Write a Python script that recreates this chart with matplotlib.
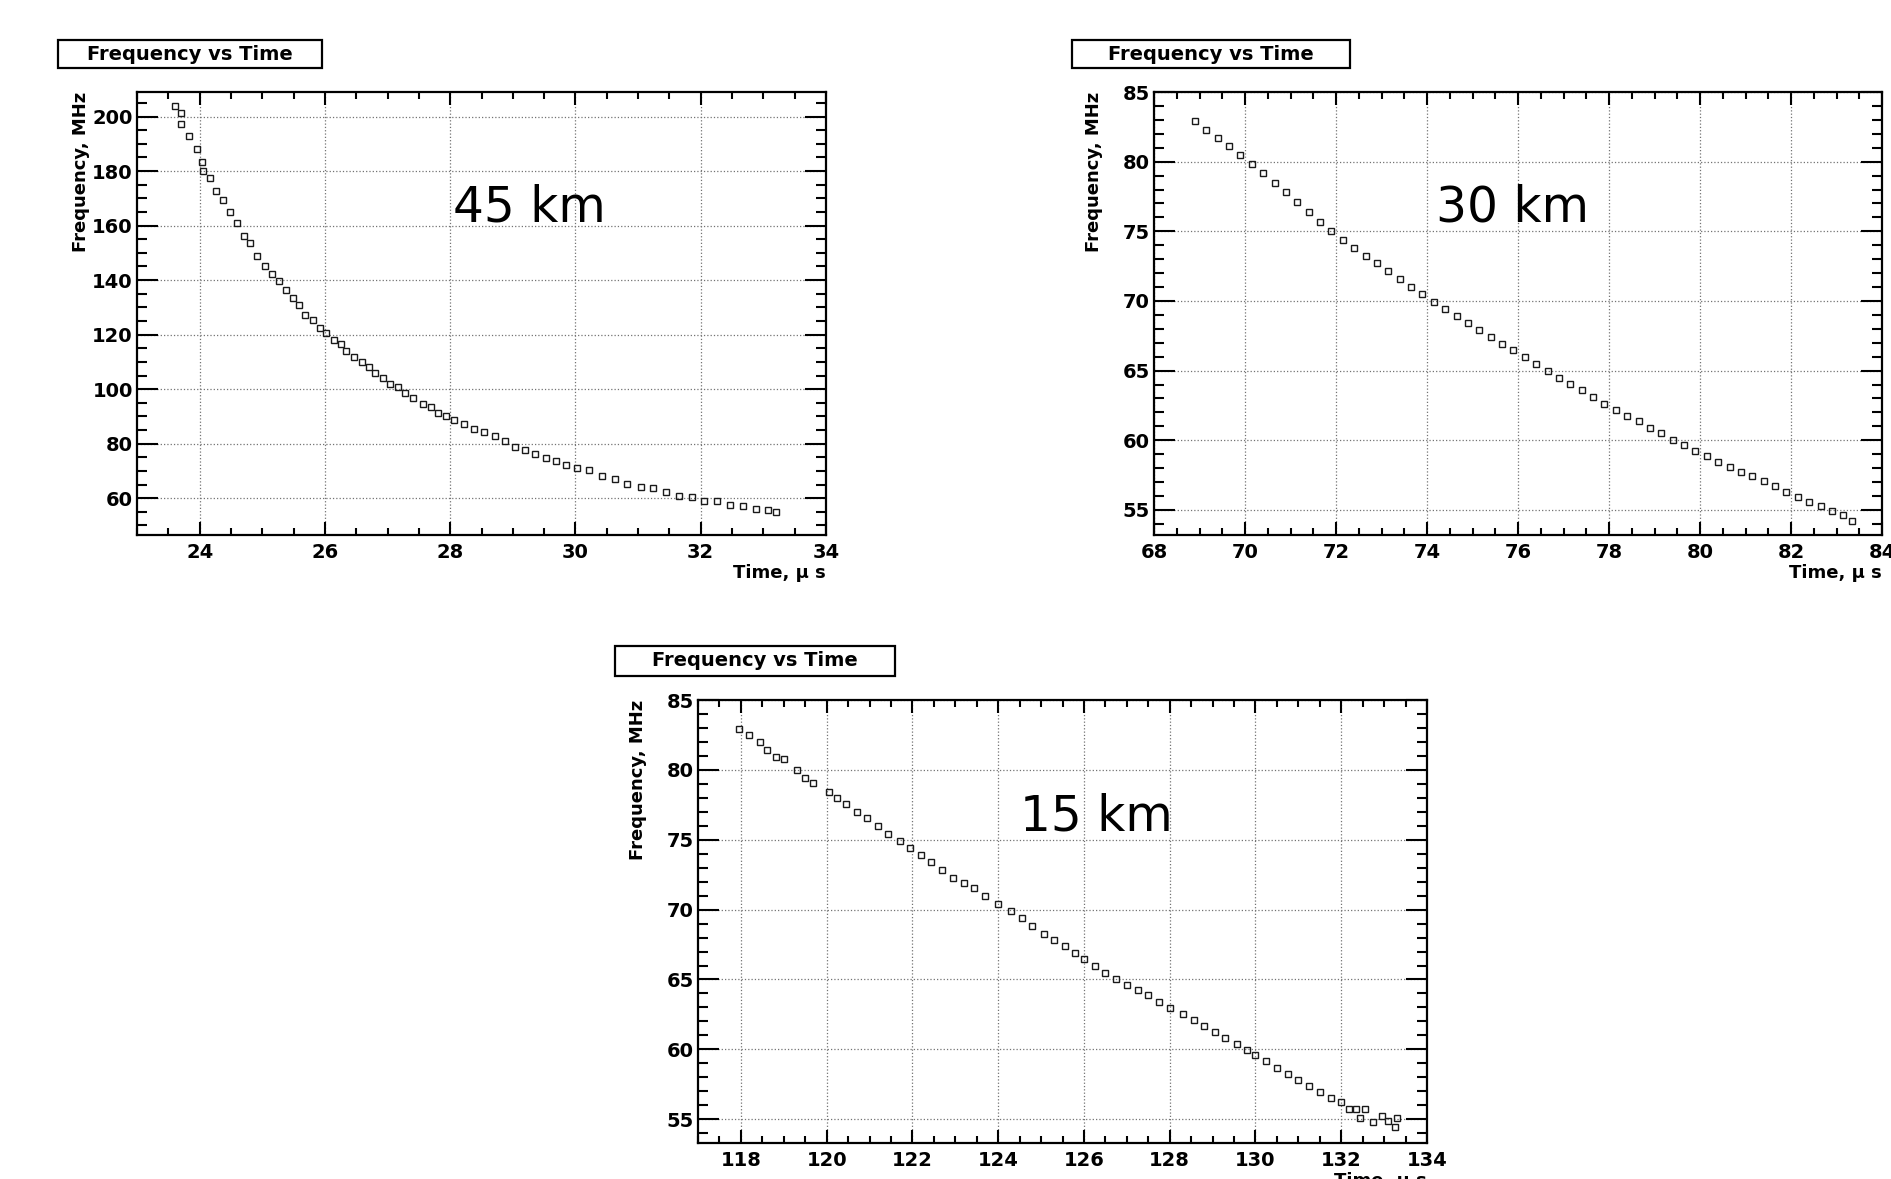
import matplotlib
matplotlib.use("Agg")
import matplotlib.pyplot as plt
from matplotlib.patches import Rectangle
from matplotlib.ticker import MultipleLocator

W, H = 1891, 1179

# 45 km
t45 = [23.61, 23.71, 23.71, 23.83, 23.96, 24.04, 24.06, 24.16, 24.26, 24.38,
       24.48, 24.59, 24.71, 24.81, 24.91, 25.04, 25.16, 25.27, 25.38, 25.49,
       25.59, 25.69, 25.81, 25.92, 26.02, 26.14, 26.26, 26.34, 26.47, 26.59,
       26.71, 26.80, 26.92, 27.04, 27.16, 27.28, 27.40, 27.57, 27.69, 27.81,
       27.93, 28.06, 28.22, 28.38, 28.54, 28.71, 28.87, 29.04, 29.20, 29.36,
       29.53, 29.69, 29.85, 30.02, 30.22, 30.42, 30.63, 30.83, 31.04, 31.24,
       31.44, 31.65, 31.86, 32.06, 32.26, 32.47, 32.67, 32.88, 33.08, 33.20]
f45 = [203.7, 201.3, 197.4, 192.7, 188.0, 183.4, 180.0, 177.5, 172.8, 169.5,
       164.9, 160.9, 156.3, 153.6, 149.0, 145.0, 142.4, 139.7, 136.4, 133.5,
       130.9, 127.2, 125.2, 122.5, 120.5, 117.9, 116.6, 113.9, 111.9, 109.9,
       108.0, 106.0, 104.0, 102.0, 100.7, 98.7, 96.7, 94.7, 93.4, 91.4,
       90.3, 88.7, 87.4, 85.4, 84.1, 82.8, 80.8, 78.8, 77.5, 76.2,
       74.8, 73.5, 72.2, 70.9, 70.2, 68.2, 66.9, 65.2, 64.2, 63.6,
       62.3, 60.7, 60.3, 58.9, 58.9, 57.6, 57.0, 55.9, 55.6, 55.0]

# 30 km
t30 = [68.9, 69.15, 69.4, 69.65, 69.9, 70.15, 70.4, 70.65, 70.9, 71.15,
       71.4, 71.65, 71.9, 72.15, 72.4, 72.65, 72.9, 73.15, 73.4, 73.65,
       73.9, 74.15, 74.4, 74.65, 74.9, 75.15, 75.4, 75.65, 75.9, 76.15,
       76.4, 76.65, 76.9, 77.15, 77.4, 77.65, 77.9, 78.15, 78.4, 78.65,
       78.9, 79.15, 79.4, 79.65, 79.9, 80.15, 80.4, 80.65, 80.9, 81.15,
       81.4, 81.65, 81.9, 82.15, 82.4, 82.65, 82.9, 83.15, 83.35]
f30 = [82.95, 82.3, 81.7, 81.1, 80.45, 79.8, 79.15, 78.5, 77.8, 77.1,
       76.4, 75.7, 75.0, 74.4, 73.8, 73.25, 72.7, 72.15, 71.55, 71.0,
       70.5, 69.95, 69.4, 68.9, 68.4, 67.9, 67.4, 66.9, 66.45, 66.0,
       65.5, 65.0, 64.5, 64.05, 63.6, 63.1, 62.6, 62.2, 61.75, 61.35,
       60.9, 60.5, 60.05, 59.65, 59.25, 58.85, 58.45, 58.1, 57.75, 57.4,
       57.05, 56.7, 56.3, 55.95, 55.6, 55.25, 54.95, 54.6, 54.2]

# 15 km
t15 = [117.96, 118.2, 118.44, 118.6, 118.81, 119.0, 119.31, 119.5, 119.69, 120.06,
       120.25, 120.44, 120.7, 120.94, 121.2, 121.44, 121.7, 121.94, 122.2, 122.44,
       122.7, 122.94, 123.2, 123.44, 123.7, 124.0, 124.3, 124.56, 124.8, 125.06,
       125.3, 125.56, 125.8, 126.0, 126.25, 126.5, 126.75, 127.0, 127.25, 127.5,
       127.75, 128.0, 128.3, 128.56, 128.8, 129.06, 129.3, 129.56, 129.8, 130.0,
       130.25, 130.5, 130.75, 131.0, 131.25, 131.5, 131.75, 132.0, 132.19, 132.35,
       132.56, 132.44, 132.75, 132.94, 133.1, 133.3, 133.25]
f15 = [82.96, 82.5, 81.96, 81.4, 80.9, 80.8, 80.0, 79.4, 79.07, 78.44,
       78.0, 77.56, 77.0, 76.56, 76.0, 75.43, 74.9, 74.42, 73.9, 73.42,
       72.8, 72.29, 71.9, 71.53, 71.0, 70.4, 69.9, 69.4, 68.8, 68.27,
       67.8, 67.39, 66.9, 66.5, 66.0, 65.5, 65.05, 64.6, 64.25, 63.87,
       63.4, 62.99, 62.5, 62.1, 61.7, 61.23, 60.8, 60.35, 59.95, 59.6,
       59.15, 58.7, 58.25, 57.84, 57.4, 56.96, 56.55, 56.2, 55.7, 55.7,
       55.7, 55.1, 54.8, 55.2, 54.9, 55.1, 54.45]

fig = plt.figure(figsize=(W / 100, H / 100), dpi=100)
fig.patch.set_facecolor("white")


def px_axes(l, t, r, b):
    return fig.add_axes([l / W, 1 - b / H, (r - l) / W, (b - t) / H])


def title_box(l, t, r, b):
    fig.add_artist(Rectangle((l / W, 1 - b / H), (r - l) / W, (b - t) / H,
                             transform=fig.transFigure, fill=True,
                             facecolor="white", edgecolor="black", lw=1.6))
    fig.text((l + r) / 2 / W, 1 - (t + b) / 2 / H, "Frequency vs Time",
             ha="center", va="center", fontsize=14, fontweight="bold")


def panel(ax, t, f, xlim, ylim, xmaj, ymaj, ymin, label, lx, ly):
    ax.plot(t, f, ls="none", marker="s", ms=4.5, mfc="none", mec="0.1", mew=1.0)
    ax.set_xlim(*xlim)
    ax.set_ylim(*ylim)
    ax.xaxis.set_major_locator(MultipleLocator(xmaj))
    ax.xaxis.set_minor_locator(MultipleLocator(0.5))
    ax.yaxis.set_major_locator(MultipleLocator(ymaj))
    ax.yaxis.set_minor_locator(MultipleLocator(ymin))
    ax.tick_params(which="both", direction="in", top=True, right=True, width=1.5)
    ax.tick_params(axis="y", which="major", length=15, pad=3)
    ax.tick_params(axis="y", which="minor", length=7.5)
    ax.tick_params(axis="x", which="major", length=9.5, pad=6)
    ax.tick_params(axis="x", which="minor", length=4.7)
    for lab in ax.get_xticklabels() + ax.get_yticklabels():
        lab.set_fontsize(14)
        lab.set_fontweight("bold")
    for s in ax.spines.values():
        s.set_linewidth(1.6)
    ax.grid(True, which="major", ls=":", color="0.45", lw=0.9)
    ax.text(-0.082, 1.0, "Frequency, MHz", transform=ax.transAxes, rotation=90,
            ha="center", va="top", fontsize=13, fontweight="bold")
    ax.text(1.0, -0.085, "Time, \u03bc s", transform=ax.transAxes,
            ha="right", va="center", fontsize=13, fontweight="bold")
    ax.text(lx, ly, label, transform=ax.transAxes, ha="center", va="center",
            fontsize=35)


ax1 = px_axes(137, 92, 826, 535)
panel(ax1, t45, f45, (23, 34), (46.5, 209), 2, 20, 5, "45 km", 0.569, 0.740)
title_box(58, 40, 322, 68)

ax2 = px_axes(1154, 92, 1882, 535)
panel(ax2, t30, f30, (68, 84), (53.2, 85), 2, 5, 1, "30 km", 0.492, 0.740)
title_box(1072, 40, 1350, 68)

ax3 = px_axes(698, 700, 1427, 1143)
panel(ax3, t15, f15, (117, 134), (53.3, 85), 2, 5, 1, "15 km", 0.547, 0.738)
title_box(615, 646, 895, 676)

fig.savefig("out.png", dpi=100)
